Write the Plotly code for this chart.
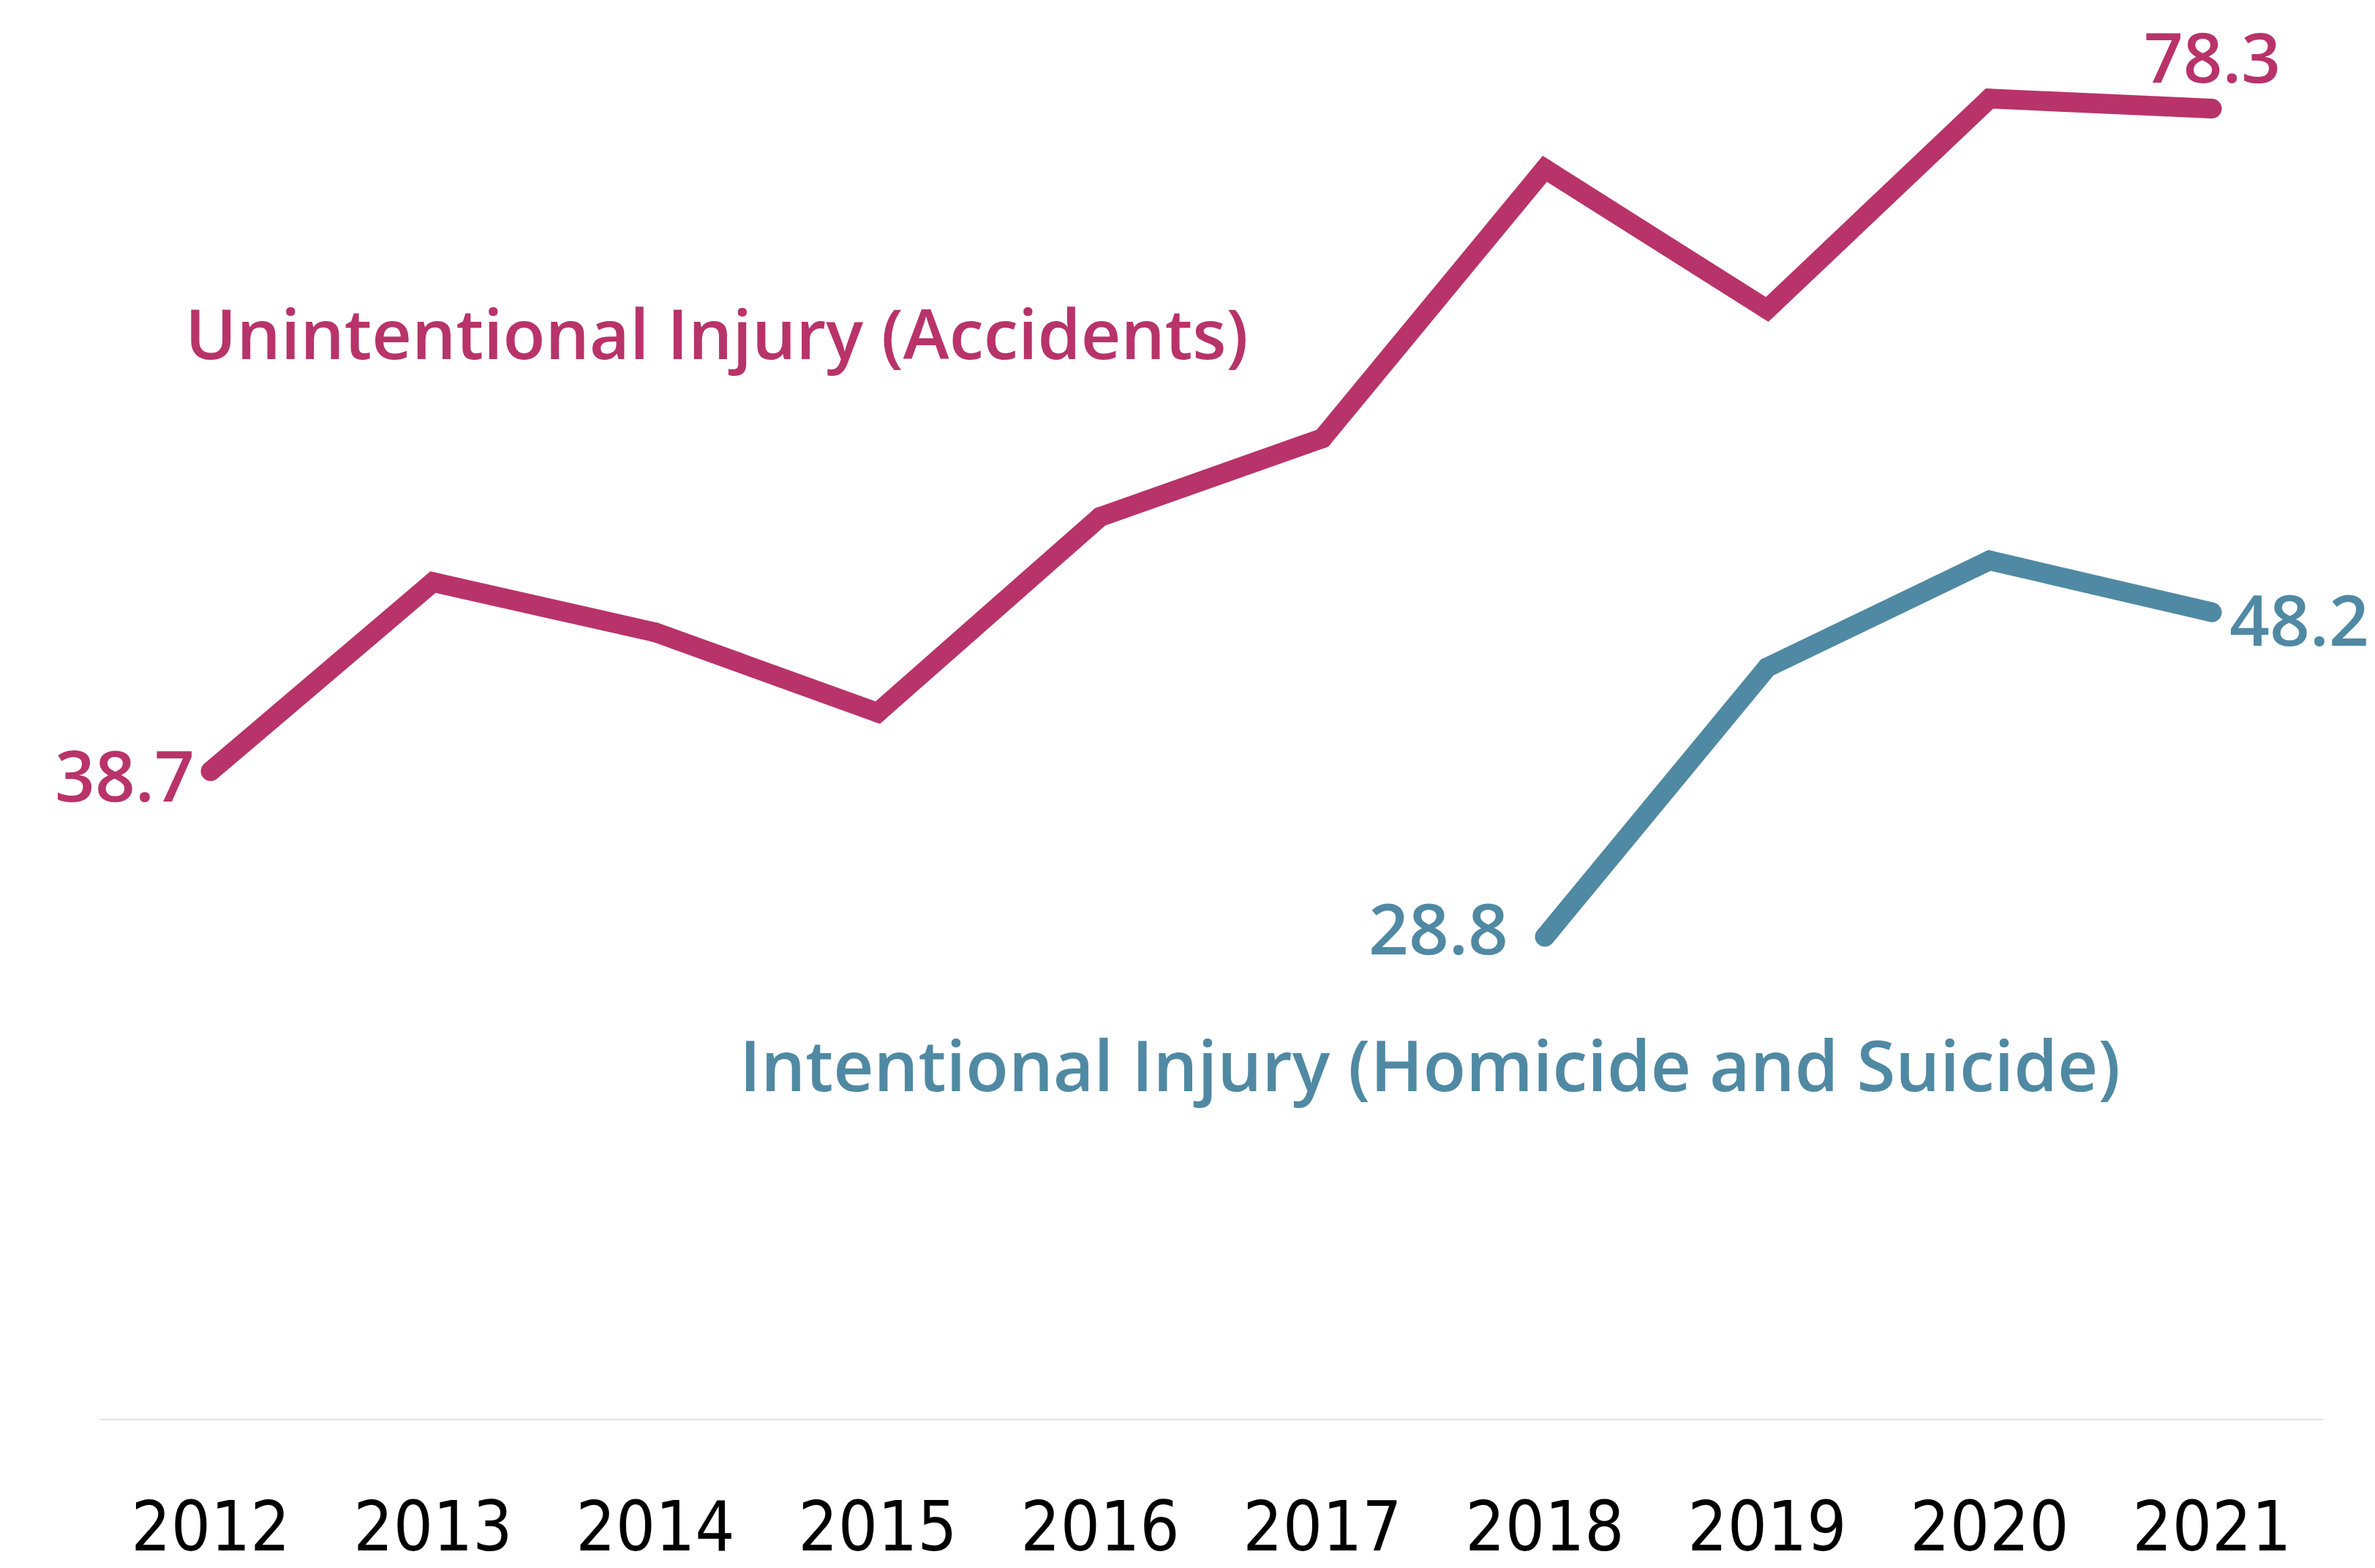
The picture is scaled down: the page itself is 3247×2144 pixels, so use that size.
import plotly.graph_objects as go

years = [2012, 2013, 2014, 2015, 2016, 2017, 2018, 2019, 2020, 2021]
unintentional = [38.7, 50.0, 47.0, 42.2, 53.9, 58.6, 74.7, 66.3, 78.9, 78.3]
int_years = [2018, 2019, 2020, 2021]
intentional = [28.8, 44.9, 51.3, 48.2]
tick_labels = [str(y) for y in years]

RED = "#B83369"
TEAL = "#5089A3"
W, H = 3239, 2136  # page body adds an 8px offset
LW = 27

fig = go.Figure()
fig.add_trace(go.Scatter(x=years, y=unintentional, mode="lines+markers",
                         line=dict(color=RED, width=LW),
                         marker=dict(color=RED, size=LW, line=dict(width=0)),
                         hoverinfo="skip", showlegend=False))
fig.add_trace(go.Scatter(x=int_years, y=intentional, mode="lines+markers",
                         line=dict(color=TEAL, width=LW),
                         marker=dict(color=TEAL, size=LW, line=dict(width=0)),
                         hoverinfo="skip", showlegend=False))

lab_font = dict(family="Open Sans", size=96, weight=600)

def ann(x, y, text, color, **kw):
    fig.add_annotation(x=x, y=y, text=text, showarrow=False,
                       font=dict(color=color, **lab_font), **kw)

ann(years[0], unintentional[0], "38.7", RED, xanchor="right", yanchor="middle", xshift=-20, yshift=-4)
ann(years[-1], unintentional[-1], "78.3", RED, xanchor="center", yanchor="bottom", yshift=6,
    font_size=94) if False else None
fig.add_annotation(x=years[-1], y=unintentional[-1], text="78.3", showarrow=False,
                   xanchor="center", yanchor="bottom", yshift=6,
                   font=dict(color=RED, family="Open Sans", size=94, weight=600))
ann(int_years[-1], intentional[-1], "48.2", TEAL, xanchor="left", yanchor="middle", xshift=22, yshift=-8)
ann(int_years[0], intentional[0], "28.8", TEAL, xanchor="right", yanchor="middle", xshift=-48, yshift=14)

PLOT_W = 3040
L = 128
fig.add_annotation(xref="paper", x=(245 + 6 - 136) / PLOT_W, y=64.95,
                   text="Unintentional Injury (Accidents)",
                   showarrow=False, xanchor="left", yanchor="middle",
                   font=dict(color=RED, family="Open Sans", size=95, weight=600))
fig.add_annotation(xref="paper", x=(1001 + 8 - 136) / PLOT_W, y=21.2,
                   text="Intentional Injury (Homicide and Suicide)",
                   showarrow=False, xanchor="left", yanchor="middle",
                   font=dict(color=TEAL, **lab_font))

PLOT_H = 1932
ymax = PLOT_H / 22.88
fig.update_layout(
    width=W, height=H,
    margin=dict(l=L, r=W - L - PLOT_W, t=0, b=H - PLOT_H, autoexpand=False),
    plot_bgcolor="white", paper_bgcolor="white",
    xaxis=dict(range=[2011.5, 2021.5], tickmode="array", tickvals=years, ticktext=tick_labels,
               showgrid=False, zeroline=False, showline=True, linecolor="#e2e2e2", linewidth=2,
               ticks="outside", ticklen=64, tickcolor="rgba(0,0,0,0)", automargin=False,
               tickfont=dict(family="DejaVu Sans Condensed, DejaVu Sans", size=95, color="black")),
    yaxis=dict(range=[0, ymax], showgrid=False, zeroline=False, showticklabels=False,
               showline=False, automargin=False),
)
fig.write_html("out.html")
